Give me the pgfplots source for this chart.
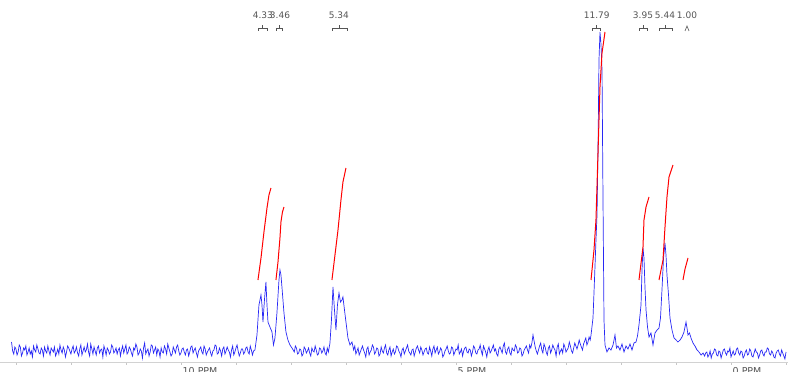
\documentclass[border=0pt]{standalone}
\usepackage{fontspec}
\setmainfont{DejaVu Sans}
\usepackage{pgfplots}
\pgfplotsset{compat=1.18}
\definecolor{specblue}{RGB}{40,40,245}
\definecolor{labgray}{RGB}{85,85,85}
\begin{document}
\begin{tikzpicture}[x=1pt,y=1pt]
\path[use as bounding box] (0,0) rectangle (788,372);
\begin{axis}[at={(0,10)}, anchor=south west, width=788pt, height=362pt, scale only axis,
  x dir=reverse, xmin=-1.036, xmax=13.29, ymin=0, ymax=362,
  axis x line*=bottom, axis y line=none, axis line style={-,draw=gray!35},
  xtick={0,5,10}, xticklabels={0 PPM,5 PPM,10 PPM}, minor xtick={-1,0,...,13},
  tick style={draw=gray!45}, major tick length=3pt, minor tick length=3pt, tick align=outside,
  xticklabel style={anchor=north west, inner sep=0pt, font=\fontsize{9.5}{11}\selectfont, text=labgray, xshift=1.5pt, yshift=-2pt},
  clip=false]
\addplot[specblue, line width=0.7pt] table {
x y
13.08 20
13.06 11
13.04 8
13.02 15
13.00 13
12.98 7
12.96 10
12.94 17
12.92 15
12.90 6
12.88 9
12.86 14
12.84 12
12.82 16
12.80 7
12.78 10
12.76 14
12.74 8
12.72 11
12.70 5
12.68 16
12.66 12
12.64 10
12.62 17
12.60 13
12.58 9
12.56 8
12.54 14
12.52 12
12.50 6
12.48 15
12.46 11
12.44 9
12.42 16
12.40 11
12.38 7
12.36 14
12.34 12
12.32 10
12.30 15
12.28 6
12.26 9
12.24 13
12.22 8
12.20 17
12.18 12
12.16 9
12.14 15
12.12 12
12.10 5
12.08 10
12.06 16
12.04 14
12.02 11
12.00 8
11.98 13
11.96 16
11.94 9
11.92 11
11.90 15
11.88 9
11.86 6
11.84 13
11.82 17
11.80 7
11.78 11
11.76 15
11.74 10
11.72 12
11.70 18
11.68 10
11.66 6
11.64 18
11.62 13
11.60 8
11.58 15
11.56 11
11.54 7
11.52 14
11.50 16
11.48 9
11.46 12
11.44 13
11.42 5
11.40 16
11.38 12
11.36 7
11.34 14
11.32 12
11.30 8
11.28 10
11.26 17
11.24 15
11.22 9
11.20 11
11.18 14
11.16 8
11.14 12
11.12 14
11.10 6
11.08 12
11.06 16
11.04 9
11.02 13
11.00 17
10.98 8
10.96 10
10.94 15
10.92 13
10.90 9
10.88 6
10.86 14
10.84 12
10.82 18
10.80 15
10.78 7
10.76 9
10.74 13
10.72 11
10.70 4
10.68 14
10.66 19
10.64 8
10.62 11
10.60 13
10.58 6
10.56 10
10.54 17
10.52 16
10.50 9
10.48 12
10.46 15
10.44 7
10.42 13
10.40 11
10.38 5
10.36 14
10.34 10
10.32 9
10.30 16
10.28 13
10.26 8
10.24 18
10.22 14
10.20 10
10.18 6
10.16 8
10.14 15
10.12 12
10.10 9
10.08 15
10.06 17
10.04 11
10.02 7
10.00 9
9.98 13
9.96 14
9.94 10
9.92 7
9.90 12
9.88 13
9.86 6
9.84 10
9.82 15
9.80 16
9.78 9
9.76 12
9.74 14
9.72 9
9.70 5
9.68 11
9.66 13
9.64 15
9.62 10
9.60 8
9.58 16
9.56 13
9.54 7
9.52 10
9.50 12
9.48 14
9.46 9
9.44 6
9.42 11
9.40 12
9.38 17
9.36 16
9.34 8
9.32 9
9.30 14
9.28 11
9.26 6
9.24 13
9.22 15
9.20 8
9.18 11
9.16 15
9.14 12
9.12 10
9.10 5
9.08 12
9.06 16
9.04 7
9.02 10
9.00 14
8.98 17
8.96 11
8.94 6
8.92 9
8.90 13
8.88 13
8.86 8
8.84 10
8.82 14
8.80 15
8.78 10
8.76 8
8.74 16
8.72 12
8.70 7
8.68 11
8.655 12
8.618 27
8.582 57
8.545 67
8.527 57
8.509 40
8.482 62
8.455 80
8.436 57
8.418 40
8.382 35
8.345 30
8.318 17
8.291 24
8.255 49
8.218 82
8.200 92
8.182 87
8.164 75
8.127 49
8.091 30
8.055 22
8.018 17
7.982 14
7.96 12
7.94 10
7.92 16
7.90 14
7.88 8
7.86 9
7.84 13
7.82 12
7.80 6
7.78 8
7.76 15
7.74 13
7.72 9
7.70 11
7.68 14
7.66 9
7.64 6
7.62 14
7.60 11
7.58 10
7.56 16
7.54 12
7.52 7
7.50 8
7.48 14
7.46 13
7.44 9
7.42 11
7.40 15
7.38 9
7.36 7
7.34 14
7.32 10
7.291 19
7.264 42
7.236 75
7.209 52
7.182 32
7.155 57
7.127 69
7.100 60
7.073 62
7.055 65
7.027 52
7.000 40
6.964 24
6.927 17
6.891 20
6.86 12
6.84 16
6.82 8
6.80 11
6.78 14
6.76 7
6.74 10
6.72 13
6.70 16
6.68 12
6.66 9
6.64 5
6.62 13
6.60 15
6.58 7
6.56 10
6.54 12
6.52 17
6.50 15
6.48 8
6.46 10
6.44 14
6.42 13
6.40 6
6.38 8
6.36 15
6.34 11
6.32 9
6.30 14
6.28 17
6.26 9
6.24 7
6.22 12
6.20 15
6.18 6
6.16 10
6.14 13
6.12 8
6.10 10
6.08 16
6.06 15
6.04 11
6.02 9
6.00 5
5.98 12
5.96 14
5.94 8
5.92 11
5.90 14
5.88 17
5.86 11
5.84 9
5.82 7
5.80 12
5.78 13
5.76 6
5.74 10
5.72 14
5.70 16
5.68 12
5.66 9
5.64 15
5.62 12
5.60 7
5.58 10
5.56 13
5.54 14
5.52 9
5.50 8
5.48 15
5.46 11
5.44 6
5.42 13
5.40 16
5.38 9
5.36 12
5.34 15
5.32 8
5.30 10
5.28 14
5.26 12
5.24 5
5.22 7
5.20 11
5.18 13
5.16 16
5.14 11
5.12 8
5.10 9
5.08 15
5.06 14
5.04 7
5.02 10
5.00 13
4.98 12
4.96 17
4.94 8
4.92 10
4.90 13
4.88 6
4.86 11
4.84 14
4.82 15
4.80 10
4.78 9
4.76 13
4.74 12
4.72 6
4.70 10
4.68 16
4.66 14
4.64 9
4.62 8
4.60 12
4.58 13
4.56 17
4.54 11
4.52 7
4.50 16
4.48 13
4.46 10
4.44 5
4.42 12
4.40 15
4.38 9
4.36 11
4.34 14
4.32 17
4.30 11
4.28 13
4.26 8
4.24 6
4.22 13
4.20 15
4.18 12
4.16 9
4.14 16
4.12 19
4.10 10
4.08 8
4.06 13
4.04 15
4.02 9
4.00 7
3.98 14
3.96 12
3.94 11
3.92 17
3.90 15
3.88 9
3.86 10
3.84 14
3.82 13
3.80 6
3.78 8
3.76 12
3.74 14
3.72 16
3.70 12
3.68 9
3.66 17
3.64 14
3.62 19
3.60 27
3.58 21
3.56 15
3.54 11
3.52 8
3.50 12
3.48 16
3.46 19
3.44 12
3.42 9
3.40 18
3.38 15
3.36 10
3.34 7
3.32 14
3.30 16
3.28 9
3.26 12
3.24 17
3.22 14
3.20 12
3.18 6
3.16 15
3.14 18
3.12 8
3.10 11
3.08 13
3.06 9
3.04 18
3.02 15
3.00 10
2.98 12
2.96 14
2.94 20
2.92 16
2.90 11
2.88 9
2.86 14
2.84 19
2.82 16
2.80 13
2.78 17
2.76 22
2.74 18
2.72 15
2.70 12
2.68 18
2.66 21
2.64 24
2.62 17
2.60 20
2.58 25
2.56 22
2.545 27
2.509 44
2.482 82
2.455 122
2.436 147
2.418 212
2.400 302
2.382 330
2.364 318
2.345 292
2.327 162
2.309 42
2.291 17
2.255 10
2.218 14
2.182 12
2.145 17
2.109 27
2.082 14
2.055 16
2.018 12
1.982 18
1.945 10
1.909 16
1.873 13
1.836 18
1.800 12
1.764 19
1.727 20
1.700 26
1.673 37
1.636 57
1.618 92
1.600 114
1.582 104
1.564 75
1.545 52
1.518 35
1.491 25
1.455 29
1.418 17
1.382 29
1.345 32
1.309 34
1.282 44
1.255 72
1.227 104
1.200 119
1.182 107
1.164 87
1.136 67
1.109 44
1.073 32
1.036 24
1.000 22
0.964 20
0.927 22
0.891 25
0.855 30
0.818 40
0.800 34
0.782 27
0.755 29
0.727 24
0.691 19
0.655 16
0.618 12
0.582 10
0.545 7
0.509 9
0.48 6
0.46 9
0.44 10
0.42 5
0.40 7
0.38 11
0.36 4
0.34 8
0.32 9
0.30 13
0.28 12
0.26 7
0.24 6
0.22 11
0.20 10
0.18 4
0.16 8
0.14 12
0.12 13
0.10 9
0.08 7
0.06 11
0.04 10
0.02 14
0.00 5
-0.02 8
-0.04 11
-0.06 7
-0.08 8
-0.10 13
-0.12 14
-0.14 9
-0.16 7
-0.18 11
-0.20 10
-0.22 4
-0.24 6
-0.26 10
-0.28 12
-0.30 7
-0.32 8
-0.34 13
-0.36 11
-0.38 6
-0.40 5
-0.42 9
-0.44 13
-0.46 10
-0.48 9
-0.50 4
-0.52 7
-0.54 11
-0.56 12
-0.58 8
-0.60 6
-0.62 10
-0.64 10
-0.66 14
-0.68 13
-0.70 8
-0.72 7
-0.74 11
-0.76 9
-0.78 5
-0.80 4
-0.82 9
-0.84 11
-0.86 12
-0.88 8
-0.90 6
-0.92 12
-0.94 9
-0.96 6
-0.98 3
-1.00 10
};
% integral curves
\addplot[red, line width=1pt] coordinates {(8.600,82) (8.545,104) (8.491,130) (8.436,154) (8.400,167) (8.364,174)};
\addplot[red, line width=1pt] coordinates {(8.273,82) (8.236,100) (8.200,124) (8.182,140) (8.155,150) (8.127,155)};
\addplot[red, line width=1pt] coordinates {(7.255,82) (7.200,107) (7.145,132) (7.091,162) (7.055,180) (7.000,194)};
\addplot[red, line width=1pt] coordinates {(2.545,82) (2.491,112) (2.455,142) (2.418,209) (2.382,275) (2.345,309) (2.291,330)};
\addplot[red, line width=1pt] coordinates {(1.673,82) (1.600,115) (1.582,142) (1.545,155) (1.491,165)};
\addplot[red, line width=1pt] coordinates {(1.309,82) (1.236,102) (1.200,135) (1.164,165) (1.127,185) (1.055,197)};
\addplot[red, line width=1pt] coordinates {(0.873,82) (0.836,93) (0.782,104)};
% integral labels
\begin{scope}[every node/.style={font=\fontsize{9}{10}\selectfont, text=labgray, inner sep=0pt}]
\node at (axis cs:8.51,347) {4.33};
\node at (axis cs:8.20,347) {3.46};
\node at (axis cs:7.13,347) {5.34};
\node at (axis cs:2.44,347) {11.79};
\node at (axis cs:1.60,347) {3.95};
\node at (axis cs:1.20,347) {5.44};
\node at (axis cs:0.80,347) {1.00};
\end{scope}
\begin{scope}[draw=labgray, line width=0.6pt]
\draw (axis cs:8.600,331) -- (axis cs:8.600,334) -- (axis cs:8.436,334) -- (axis cs:8.436,331);
\draw (axis cs:8.518,334) -- (axis cs:8.518,337);
\draw (axis cs:8.273,331) -- (axis cs:8.273,334) -- (axis cs:8.164,334) -- (axis cs:8.164,331);
\draw (axis cs:8.218,334) -- (axis cs:8.218,337);
\draw (axis cs:7.255,331) -- (axis cs:7.255,334) -- (axis cs:6.982,334) -- (axis cs:6.982,331);
\draw (axis cs:7.118,334) -- (axis cs:7.118,337);
\draw (axis cs:2.527,331) -- (axis cs:2.527,334) -- (axis cs:2.382,334) -- (axis cs:2.382,331);
\draw (axis cs:2.455,334) -- (axis cs:2.455,337);
\draw (axis cs:1.673,331) -- (axis cs:1.673,334) -- (axis cs:1.527,334) -- (axis cs:1.527,331);
\draw (axis cs:1.600,334) -- (axis cs:1.600,337);
\draw (axis cs:1.309,331) -- (axis cs:1.309,334) -- (axis cs:1.073,334) -- (axis cs:1.073,331);
\draw (axis cs:1.191,334) -- (axis cs:1.191,337);
\draw (axis cs:0.836,331) -- (axis cs:0.800,336) -- (axis cs:0.764,331);
\end{scope}
\end{axis}
\end{tikzpicture}
\end{document}
